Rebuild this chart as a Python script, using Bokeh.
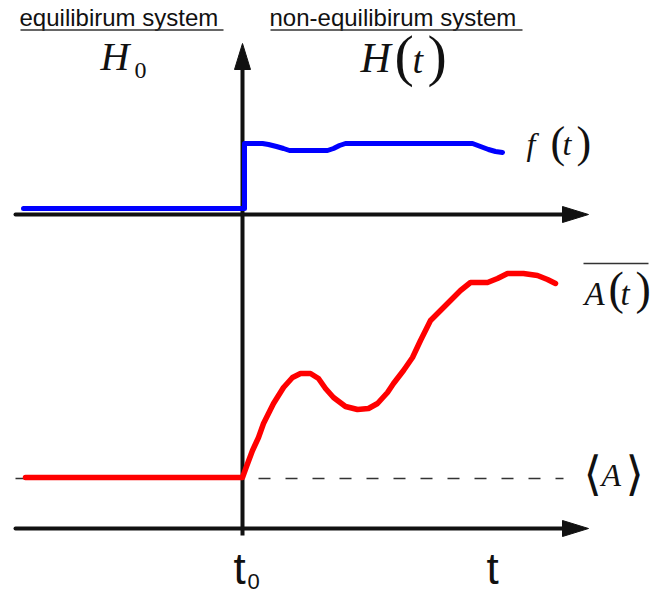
from bokeh.plotting import figure
from bokeh.models import Range1d
from bokeh.core.properties import value
from bokeh.embed import file_html
from bokeh.resources import INLINE

# ---- schematic data (time axis in drawing units) ----
t_start = 15          # left end of both time axes
t0 = 242              # switching time t0 (vertical axis)
t_tip = 588           # arrow tip of the time axes
v_top = 43            # arrow tip of the vertical axis
v_bottom = 535        # lower end of the vertical axis
axis_f = 214          # level of the f(t) axis
axis_A = 528          # level of the A(t) axis
A_eq = 478            # equilibrium value <A>

# driving force f(t)
f_t = [23, 244, 244, 262, 268, 276, 283, 289, 327, 333, 339, 345, 472, 480, 488, 495, 502]
f_v = [208, 208, 143, 143, 144, 146, 148, 150, 150, 148, 145, 143, 143, 146, 149, 151, 152]

# response  overline{A(t)}
a_t = [25, 242, 246, 252, 258, 263, 273, 283, 292, 300, 310, 318, 325, 333, 345, 357,
       368, 377, 387, 393, 403, 412, 420, 430, 440, 450, 460, 470, 487, 497, 507, 523,
       537, 547, 555]
a_v = [477, 477, 466, 450, 437, 423, 403, 387, 377, 373, 373, 378, 388, 397, 406, 409,
       408, 403, 392, 383, 370, 357, 340, 320, 310, 300, 290, 282, 282, 278, 273, 273,
       275, 279, 283]

W, H = 657, 594
p = figure(width=W, height=H, x_range=Range1d(0, W), y_range=Range1d(H, 0),
           output_backend="svg", toolbar_location=None, min_border=0,
           x_axis_location=None, y_axis_location=None)
p.grid.visible = False
p.outline_line_color = None
p.background_fill_color = "white"
p.border_fill_color = "white"

INK = "#111111"
AW = 8     # arrow half width
AL = 26    # arrow length

# dashed equilibrium level
p.line([t_start, 563], [A_eq, A_eq], line_dash="12 15", line_width=1.5, line_color="#333333")

# axes
p.line([t0, t0], [v_bottom, v_top + AL], line_width=4, line_color=INK)
p.line([t_start, t_tip - AL], [axis_f, axis_f], line_width=4, line_color=INK, line_cap="round")
p.line([t_start, t_tip - AL], [axis_A, axis_A], line_width=4, line_color=INK, line_cap="round")
p.patches(xs=[[t0 - AW, t0, t0 + AW],
              [t_tip - AL, t_tip, t_tip - AL],
              [t_tip - AL, t_tip, t_tip - AL]],
          ys=[[v_top + AL, v_top, v_top + AL],
              [axis_f - AW, axis_f, axis_f + AW],
              [axis_A - AW, axis_A, axis_A + AW]],
          fill_color=INK, line_color=INK, line_width=1)

# curves
p.line(f_t, f_v, line_width=5, line_color="#0000ff", line_cap="round", line_join="round")
p.line(a_t, a_v, line_width=5.5, line_color="#ff0000", line_cap="round", line_join="round")

SANS = "Liberation Sans"
SERIF = "Liberation Serif"
DJ = "DejaVu Sans"

# (text, x, baseline y, font, style, size)
labels = [
    ("equilibirum system", 19, 25, SANS, "normal", 24),
    ("non-equilibirum system", 269, 25, SANS, "normal", 24),
    ("H", 100, 70, SERIF, "italic", 40),
    ("0", 134, 78, SERIF, "normal", 24),
    ("H", 360, 72, SERIF, "italic", 42),
    ("(", 394, 75, SERIF, "normal", 58),
    ("t", 412, 72, SERIF, "italic", 38),
    (")", 427, 75, SERIF, "normal", 58),
    ("f", 526, 154, SERIF, "italic", 32),
    ("(", 550, 157, SERIF, "normal", 44),
    ("t", 562, 154, SERIF, "italic", 32),
    (")", 576, 157, SERIF, "normal", 44),
    ("A", 584, 305, SERIF, "italic", 33),
    ("(", 608, 304, SERIF, "normal", 46),
    ("t", 620, 305, SERIF, "italic", 33),
    (")", 635, 304, SERIF, "normal", 46),
    ("\u27e8", 583, 489, DJ, "normal", 47),
    ("A", 601, 485, SERIF, "italic", 32),
    ("\u27e9", 625, 489, DJ, "normal", 47),
    ("t", 233, 583, SANS, "normal", 44),
    ("0", 247, 588, SANS, "normal", 22),
    ("t", 486, 583, SANS, "normal", 44),
]
for txt, x, b, font, style, size in labels:
    shift = 0.346 if font == DJ else 0.34
    p.text(x=[x], y=[b - shift * size], text=[txt], text_font=value(font),
           text_font_style=style, text_font_size=f"{size}px", text_color=INK,
           text_align="left", text_baseline="middle")

# underlines of the headers and overline of A(t)
p.segment(x0=[20, 270, 583], y0=[29.5, 29.5, 263], x1=[223, 522, 648], y1=[29.5, 29.5, 263],
          line_width=1.5, line_color="#333333")

open("out.html", "w").write(file_html(p, INLINE))
